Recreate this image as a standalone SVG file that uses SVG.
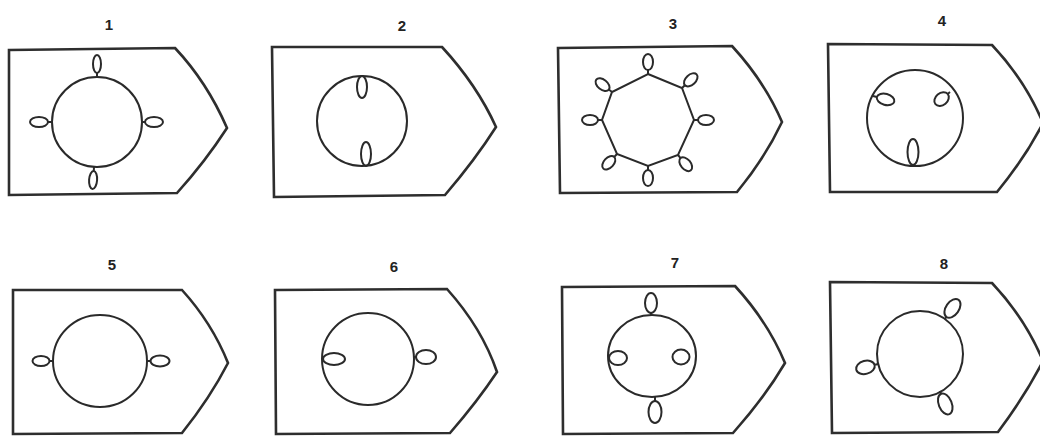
<svg xmlns="http://www.w3.org/2000/svg" width="1040" height="437" viewBox="0 0 1040 437">
<style>
.box{fill:none;stroke:#2e2e2e;stroke-width:2.6;stroke-linejoin:miter}
.ring{fill:none;stroke:#2a2a2a;stroke-width:2}
.lp ellipse,.lp path{fill:none;stroke:#2a2a2a;stroke-width:2}
.lbl{font-family:"Liberation Sans",Arial,sans-serif;font-weight:bold;font-size:15px;fill:#222;text-anchor:middle}
</style>
<rect width="1040" height="437" fill="#ffffff"/>

<g id="panel1">
<text class="lbl" x="109" y="30">1</text>
<path class="box" d="M9,50 L175,48 Q207,82 227,128 Q205,162 177,193 L9,195 Z"/>
<circle class="ring" cx="97" cy="122" r="45"/>
<g class="lp" transform="translate(97,77) rotate(-90)"><path d="M0,0 H4"/><ellipse cx="13" cy="0" rx="9" ry="4"/></g>
<g class="lp" transform="translate(142,122) rotate(0)"><path d="M0,0 H3"/><ellipse cx="12" cy="0" rx="9" ry="5"/></g>
<g class="lp" transform="translate(94,167) rotate(94)"><path d="M0,0 H4"/><ellipse cx="13" cy="0" rx="9" ry="4"/></g>
<g class="lp" transform="translate(52,122) rotate(180)"><path d="M0,0 H4"/><ellipse cx="13" cy="0" rx="9" ry="5"/></g>
</g>

<g id="panel2">
<text class="lbl" x="402" y="31">2</text>
<path class="box" d="M272,47 L442,47 Q477,85 496,127 Q475,160 445,195 L274,197 Z"/>
<circle class="ring" cx="362" cy="121" r="45"/>
<g class="lp" transform="translate(362,76) rotate(90)"><ellipse cx="11" cy="0" rx="11" ry="5"/></g>
<g class="lp" transform="translate(366,166) rotate(-90)"><ellipse cx="12" cy="0" rx="12" ry="5"/></g>
</g>

<g id="panel3">
<text class="lbl" x="673" y="29">3</text>
<path class="box" d="M558,48 L732,46 Q765,82 782,122 Q765,158 737,192 L560,193 Z"/>
<polygon class="ring" points="648,74 682,88 694,120 678,155 648,166 617,154 602,120 612,92"/>
<g class="lp" transform="translate(648,74) rotate(-90)"><path d="M0,0 H4"/><ellipse cx="12" cy="0" rx="8" ry="5"/></g>
<g class="lp" transform="translate(682,88) rotate(-43)"><path d="M0,0 H4"/><ellipse cx="12" cy="0" rx="8" ry="5"/></g>
<g class="lp" transform="translate(694,120) rotate(0)"><path d="M0,0 H4"/><ellipse cx="12" cy="0" rx="8" ry="5"/></g>
<g class="lp" transform="translate(678,155) rotate(50)"><path d="M0,0 H4"/><ellipse cx="12" cy="0" rx="8" ry="5"/></g>
<g class="lp" transform="translate(648,166) rotate(90)"><path d="M0,0 H4"/><ellipse cx="12" cy="0" rx="8" ry="5"/></g>
<g class="lp" transform="translate(617,154) rotate(133)"><path d="M0,0 H4"/><ellipse cx="12" cy="0" rx="8" ry="5"/></g>
<g class="lp" transform="translate(602,120) rotate(180)"><path d="M0,0 H4"/><ellipse cx="12" cy="0" rx="8" ry="5"/></g>
<g class="lp" transform="translate(612,92) rotate(-142)"><path d="M0,0 H4"/><ellipse cx="12" cy="0" rx="8" ry="5"/></g>
</g>

<g id="panel4">
<text class="lbl" x="942" y="26">4</text>
<path class="box" d="M828,44 L992,45 Q1025,80 1043,123 Q1025,158 997,192 L830,192 Z"/>
<circle class="ring" cx="915" cy="118" r="48"/>
<g class="lp" transform="translate(873,96) rotate(15)"><path d="M0,0 H4"/><ellipse cx="13" cy="0" rx="9" ry="5.5"/></g>
<g class="lp" transform="translate(950,92) rotate(140)"><path d="M0,0 H3"/><ellipse cx="11" cy="0" rx="8" ry="6"/></g>
<g class="lp" transform="translate(913,165) rotate(-90)"><ellipse cx="13" cy="0" rx="13" ry="5.5"/></g>
</g>

<g id="panel5">
<text class="lbl" x="112" y="270">5</text>
<path class="box" d="M13,290 L182,290 Q212,323 228,363 Q210,398 182,433 L13,434 Z"/>
<ellipse class="ring" cx="100" cy="361" rx="47" ry="46"/>
<g class="lp" transform="translate(53,361) rotate(180)"><path d="M0,0 H4"/><ellipse cx="12" cy="0" rx="8.5" ry="5"/></g>
<g class="lp" transform="translate(147,361) rotate(0)"><path d="M0,0 H4"/><ellipse cx="13" cy="0" rx="9.5" ry="5.5"/></g>
</g>

<g id="panel6">
<text class="lbl" x="394" y="272">6</text>
<path class="box" d="M275,290 L447,289 Q482,328 497,372 Q477,402 450,433 L276,434 Z"/>
<circle class="ring" cx="368" cy="359" r="46"/>
<g class="lp" transform="translate(322,359) rotate(0)"><ellipse cx="12" cy="0" rx="11" ry="6"/></g>
<g class="lp" transform="translate(413,357) rotate(0)"><path d="M0,0 H3"/><ellipse cx="13" cy="0" rx="10" ry="7"/></g>
</g>

<g id="panel7">
<text class="lbl" x="675" y="268">7</text>
<path class="box" d="M562,287 L735,286 Q768,322 785,363 Q765,397 733,433 L563,434 Z"/>
<ellipse class="ring" cx="652" cy="356" rx="44" ry="41"/>
<g class="lp" transform="translate(651,315) rotate(-90)"><path d="M0,0 H3"/><ellipse cx="12" cy="0" rx="10" ry="6"/></g>
<g class="lp" transform="translate(608,358) rotate(0)"><ellipse cx="10" cy="0" rx="9" ry="7"/></g>
<g class="lp" transform="translate(696,357) rotate(180)"><ellipse cx="15" cy="0" rx="8.5" ry="7.5"/></g>
<g class="lp" transform="translate(655,397) rotate(90)"><path d="M0,0 H4"/><ellipse cx="15" cy="0" rx="11" ry="6.5"/></g>
</g>

<g id="panel8">
<text class="lbl" x="944" y="269">8</text>
<path class="box" d="M830,282 L992,283 Q1025,318 1043,361 Q1025,396 998,432 L832,433 Z"/>
<circle class="ring" cx="920" cy="354" r="43"/>
<g class="lp" transform="translate(945,319) rotate(-55)"><path d="M0,0 H3"/><ellipse cx="13" cy="0" rx="10.5" ry="6.5"/></g>
<g class="lp" transform="translate(878,364) rotate(165)"><path d="M0,0 H3"/><ellipse cx="13" cy="0" rx="9.5" ry="6.5"/></g>
<g class="lp" transform="translate(940,391) rotate(68)"><path d="M0,0 H3"/><ellipse cx="14" cy="0" rx="11" ry="6.5"/></g>
</g>
</svg>
